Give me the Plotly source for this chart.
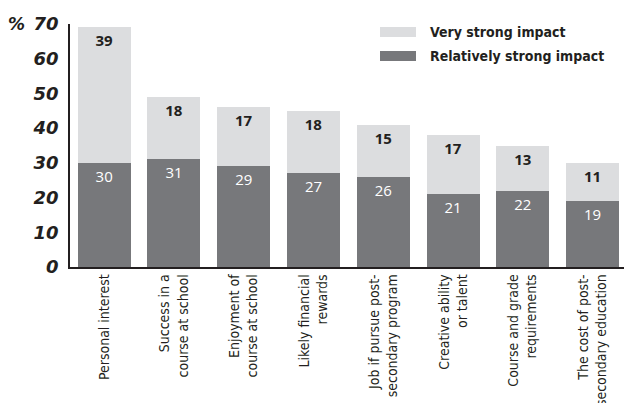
import plotly.graph_objects as go

categories = [
    "Personal interest",
    "Success in a<br>course at school",
    "Enjoyment of<br>course at school",
    "Likely financial<br>rewards",
    "Job if pursue post-<br>secondary program",
    "Creative ability<br>or talent",
    "Course and grade<br>requirements",
    "The cost of post-<br>secondary education",
]
relatively_strong = [30, 31, 29, 27, 26, 21, 22, 19]
very_strong = [39, 18, 17, 18, 15, 17, 13, 11]
y_ticks = [0, 10, 20, 30, 40, 50, 60, 70]

LIGHT = "#dcdddf"
DARK = "#77787b"
FONT = "DejaVu Sans Condensed, Open Sans, sans-serif"

x = list(range(len(categories)))

fig = go.Figure()
fig.add_trace(go.Bar(
    x=x, y=relatively_strong, name="Relatively strong impact",
    marker=dict(color=DARK, line=dict(width=0)), width=0.76,
    text=[str(v) for v in relatively_strong], textposition="inside",
    insidetextanchor="end",
    textfont=dict(color="white", size=15, family="Open Sans, sans-serif"),
    showlegend=False,
))
fig.add_trace(go.Bar(
    x=x, y=very_strong, name="Very strong impact",
    marker=dict(color=LIGHT, line=dict(width=0)), width=0.76,
    text=["<b>%d</b>" % v for v in very_strong], textposition="inside",
    insidetextanchor="end",
    textfont=dict(color="#231f20", size=15, family="Open Sans, sans-serif"),
    showlegend=False,
))

fig.update_layout(
    barmode="stack",
    width=624, height=403,
    margin=dict(l=70, r=0, t=24, b=136, autoexpand=False),
    paper_bgcolor="white", plot_bgcolor="white",
    font=dict(family=FONT, color="#231f20"),
    xaxis=dict(
        range=[-0.49, 7.45], tickmode="array", tickvals=x, ticktext=categories,
        tickangle=-90, tickfont=dict(size=14, family=FONT, color="#231f20"),
        showline=True, linecolor="#231f20", linewidth=1.5, ticks="",
        showgrid=False, zeroline=False, automargin=False,
    ),
    yaxis=dict(
        range=[0, 70], tickmode="array", tickvals=y_ticks,
        ticktext=[str(v) for v in y_ticks],
        tickfont=dict(size=18, family="DejaVu Sans, sans-serif", color="#231f20",
                      style="italic", weight="bold"),
        showline=True, linecolor="#231f20", linewidth=1.5, ticks="",
        showgrid=False, zeroline=False, ticklabelstandoff=6, automargin=False,
    ),
    uniformtext=dict(mode=False),
)

fig.add_annotation(
    xref="paper", yref="paper", x=(6 - 70) / 554, y=1.0, xanchor="left", yanchor="middle",
    text="%", showarrow=False,
    font=dict(size=17, family="DejaVu Sans, sans-serif", color="#231f20",
              style="italic", weight="bold"),
)

# legend drawn manually
leg = [("Very strong impact", LIGHT, 32), ("Relatively strong impact", DARK, 56)]
for label, col, yc in leg:
    fig.add_shape(type="rect", xref="paper", yref="paper",
                  x0=(380 - 70) / 554, x1=(416 - 70) / 554,
                  y0=(267 - (yc - 5)) / 243, y1=(267 - (yc + 5)) / 243,
                  fillcolor=col, line=dict(width=0), layer="above")
    fig.add_annotation(xref="paper", yref="paper",
                       x=(428 - 70) / 554, y=(267 - yc) / 243,
                       xanchor="left", yanchor="middle", text="<b>%s</b>" % label,
                       showarrow=False,
                       font=dict(size=14, family=FONT, color="#231f20"))

fig.write_html("out.html", config={"displayModeBar": False},
               post_script="document.body.style.margin='0';")
